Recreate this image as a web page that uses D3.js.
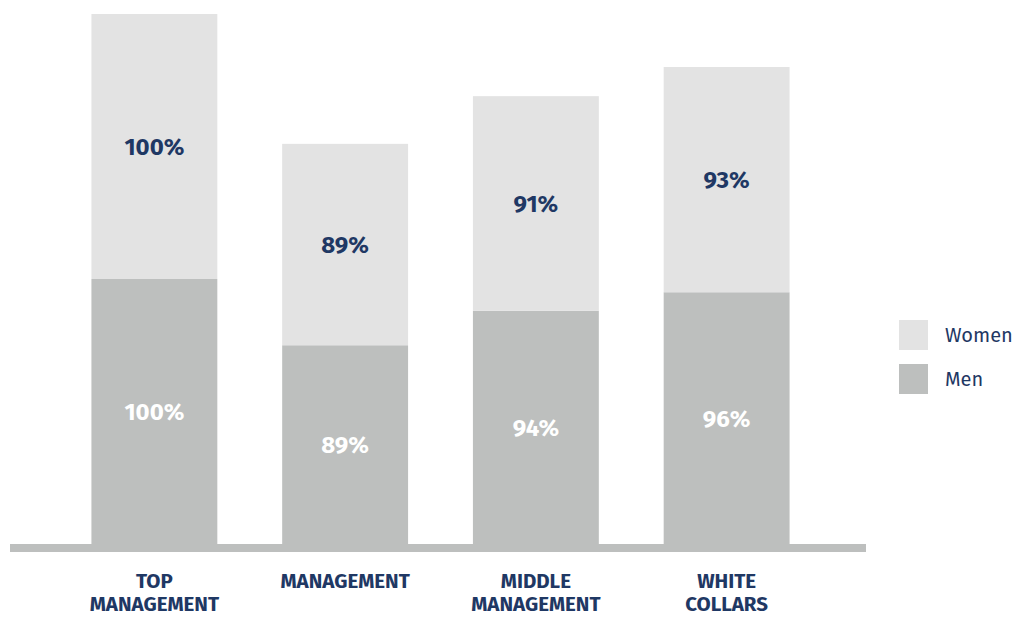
<!DOCTYPE html>
<html>
<head>
<meta charset="utf-8">
<script src="https://cdn.jsdelivr.net/npm/d3@7"></script>
<style>
    body { margin: 0; background: #fff; }
    text { font-family: "Fira Sans", "PT Sans", Lato, "Open Sans", sans-serif; }
</style>
</head>
<body>
<div id="chart"></div>
<script>
// Share of employees by job level, men vs women

let categories = [["TOP", "MANAGEMENT"], ["MANAGEMENT"], ["MIDDLE", "MANAGEMENT"], ["WHITE", "COLLARS"]];
// segment sizes as drawn in the picture (top bar = 100)
let menHeights = [100, 75, 88, 95];
let womenHeights = [100, 76, 81, 85];
// printed labels
let menLabels = ["100%", "89%", "94%", "96%"];
let womenLabels = ["100%", "89%", "91%", "93%"];
let seriesNames = ["Women", "Men"];

let width = 1013, height = 617;
let navy = "#1f3864";
let colors = {Women: "#e3e3e3", Men: "#bdbfbe"};

let svg = d3.select("#chart").append("svg")
    .attr("width", width)
    .attr("height", height);

let x = d3.scaleBand()
    .domain(d3.range(categories.length))
    .range([59, 822])
    .paddingInner(0.34)
    .paddingOuter(0.17);

let y = d3.scaleLinear()
    .domain([0, 200])
    .range([544, 14]);

let data = categories.map((c, i) => ({
    i: i,
    men: menHeights[i], women: womenHeights[i],
    menLabel: menLabels[i], womenLabel: womenLabels[i]
}));

// men segment
svg.selectAll(".men").data(data)
    .enter().append("rect")
    .attr("class", "men")
    .attr("x", d => x(d.i))
    .attr("width", x.bandwidth())
    .attr("y", d => y(d.men))
    .attr("height", d => y(0) - y(d.men))
    .attr("fill", colors.Men);

// women segment stacked on top
svg.selectAll(".women").data(data)
    .enter().append("rect")
    .attr("class", "women")
    .attr("x", d => x(d.i))
    .attr("width", x.bandwidth())
    .attr("y", d => y(d.men + d.women))
    .attr("height", d => y(d.men) - y(d.men + d.women))
    .attr("fill", colors.Women);

// value labels
svg.selectAll(".men-label").data(data)
    .enter().append("text")
    .attr("class", "men-label")
    .attr("x", d => x(d.i) + x.bandwidth() / 2)
    .attr("y", d => (y(0) + y(d.men)) / 2)
    .attr("dy", "0.35em")
    .attr("text-anchor", "middle")
    .attr("font-size", 24)
    .attr("font-weight", "bold")
    .attr("fill", "white")
    .text(d => d.menLabel);

svg.selectAll(".women-label").data(data)
    .enter().append("text")
    .attr("class", "women-label")
    .attr("x", d => x(d.i) + x.bandwidth() / 2)
    .attr("y", d => (y(d.men) + y(d.men + d.women)) / 2)
    .attr("dy", "0.35em")
    .attr("text-anchor", "middle")
    .attr("font-size", 24)
    .attr("font-weight", "bold")
    .attr("fill", navy)
    .text(d => d.womenLabel);

// baseline
svg.append("rect")
    .attr("x", 10)
    .attr("y", y(0))
    .attr("width", 856)
    .attr("height", 8)
    .attr("fill", colors.Men);

// category labels, one text per line
let lines = [];
data.forEach(d => categories[d.i].forEach((t, j) => lines.push({i: d.i, j: j, t: t})));

svg.selectAll(".cat").data(lines)
    .enter().append("text")
    .attr("class", "cat")
    .attr("x", d => x(d.i) + x.bandwidth() / 2)
    .attr("y", d => 588 + d.j * 23)
    .attr("text-anchor", "middle")
    .attr("font-size", 20.5)
    .attr("font-weight", "bold")
    .attr("fill", navy)
    .text(d => d.t);

// legend
let legend = svg.selectAll(".legend").data(seriesNames)
    .enter().append("g")
    .attr("class", "legend")
    .attr("transform", (d, i) => "translate(899," + (320 + i * 44) + ")");

legend.append("rect")
    .attr("width", 29)
    .attr("height", 30)
    .attr("fill", d => colors[d]);

legend.append("text")
    .attr("x", 46)
    .attr("y", 15)
    .attr("dy", "0.35em")
    .attr("font-size", 20)
    .attr("fill", navy)
    .text(d => d);
</script>
</body>
</html>
